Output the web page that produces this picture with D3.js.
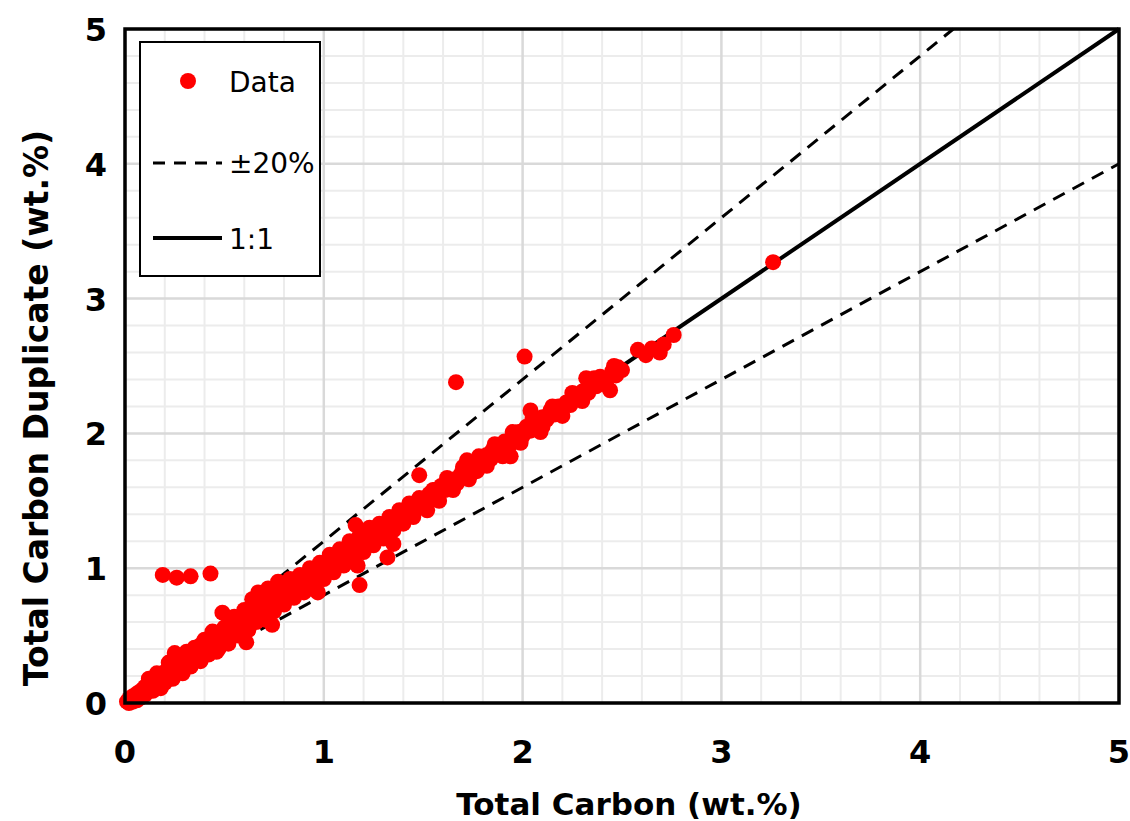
<!DOCTYPE html>
<html>
<head>
<meta charset="utf-8">
<script src="https://cdn.jsdelivr.net/npm/d3@7.9.0/dist/d3.min.js"></script>
<style>
  body { margin: 0; background: #fff; }
  svg { display: block; font-family: "Century Gothic", "DejaVu Sans", sans-serif; }
</style>
</head>
<body>
<svg id="chart" width="1130" height="821"></svg>
<script>
// total carbon (x) and duplicate measurement (y), wt.%
const totalCarbon = [
  0.01, 0.02, 0.03, 0.04, 0.05, 0.06, 0.07, 0.08, 0.09, 0.10, 0.11, 0.12, 0.13, 0.14, 0.15, 0.16, 0.17, 0.18, 0.18, 0.19,
  0.20, 0.21, 0.22, 0.23, 0.24, 0.25, 0.25, 0.26, 0.27, 0.28, 0.29, 0.30, 0.30,
  0.31, 0.32, 0.33, 0.34, 0.35, 0.36, 0.37, 0.38, 0.39, 0.40, 0.41, 0.42, 0.43, 0.44, 0.45, 0.46, 0.46, 0.47, 0.48, 0.49,
  0.50, 0.51, 0.52, 0.53, 0.54, 0.55, 0.56, 0.57, 0.58, 0.59, 0.60, 0.61, 0.62, 0.63,
  0.64, 0.65, 0.66, 0.67, 0.68, 0.69, 0.70, 0.71, 0.72, 0.73, 0.74, 0.75, 0.76, 0.77, 0.78, 0.79, 0.80, 0.81, 0.82, 0.83,
  0.84, 0.85, 0.86, 0.87, 0.88, 0.89, 0.90, 0.91, 0.92, 0.93, 0.94, 0.95, 0.96, 0.97, 0.98, 0.99, 1.00,
  1.01, 1.02, 1.03, 1.04, 1.05, 1.06, 1.07, 1.08, 1.09, 1.10, 1.11, 1.12, 1.13, 1.14, 1.15, 1.16, 1.17, 1.18, 1.19, 1.20,
  1.21, 1.22, 1.23, 1.25, 1.26, 1.28, 1.29, 1.30, 1.32, 1.33, 1.35, 1.34, 1.36, 1.38, 1.39, 1.41, 1.42, 1.44, 1.45, 1.47, 1.48, 1.48,
  1.50, 1.52, 1.53, 1.55, 1.56, 1.58, 1.59, 1.61, 1.62, 1.64, 1.665, 1.66, 1.67, 1.69, 1.70, 1.72, 1.72, 1.74, 1.76, 1.77,
  1.79, 1.80, 1.82, 1.84, 1.85, 1.87, 1.88, 1.90, 1.91, 1.93, 1.94, 1.95, 1.97, 1.98, 2.00,
  2.01, 2.02, 2.04, 2.04, 2.06, 2.08, 2.09, 2.10, 2.12, 2.14, 2.16, 2.18, 2.20, 2.22, 2.24, 2.26, 2.28, 2.30, 2.32, 2.33,
  2.35, 2.37, 2.39, 2.41, 2.44, 2.45, 2.47, 2.48, 2.50,
  2.58, 2.62, 2.65, 2.69, 2.71, 2.76, 3.26,
  0.19, 0.26, 0.33, 0.43,
  0.02, 0.04, 0.06, 0.08, 0.10, 0.12, 0.14, 0.16, 0.20, 0.22, 0.24, 0.27, 0.29, 0.31, 0.33, 0.35, 0.38, 0.40, 0.42, 0.44,
  0.47, 0.50, 0.52,
  0.55, 0.57, 0.60, 0.62, 0.64, 0.66, 0.68, 0.70, 0.72, 0.75, 0.78, 0.80, 0.83, 0.85, 0.88, 0.90, 0.93, 0.95, 0.98, 1.00,
  1.03, 1.05, 1.08, 1.10, 1.13, 1.15, 1.18, 1.20, 1.23, 1.25, 1.28, 1.30, 1.33, 1.35, 1.38, 1.40, 1.43, 1.45, 1.48,
  1.52, 1.55, 1.58, 1.62, 1.65, 1.70, 1.73, 1.78, 1.82, 1.86, 1.90, 1.95, 1.99, 2.05, 2.10, 2.15, 2.20, 2.25, 2.30, 2.36,
  2.42, 2.46
];
const duplicate = [
  0.01, 0.03, 0.02, 0.05, 0.04, 0.07, 0.05, 0.09, 0.08, 0.12, 0.09, 0.14, 0.11, 0.16, 0.13, 0.18, 0.15, 0.21, 0.11, 0.17,
  0.23, 0.19, 0.26, 0.21, 0.29, 0.22, 0.37, 0.30, 0.25, 0.33, 0.27, 0.35, 0.26,
  0.30, 0.36, 0.31, 0.38, 0.33, 0.41, 0.35, 0.43, 0.37, 0.45, 0.39, 0.47, 0.42, 0.49, 0.44, 0.51, 0.38, 0.46, 0.53, 0.67,
  0.48, 0.55, 0.50, 0.58, 0.53, 0.60, 0.55, 0.62, 0.57, 0.64, 0.58, 0.45, 0.66, 0.61,
  0.72, 0.64, 0.78, 0.82, 0.70, 0.66, 0.78, 0.73, 0.85, 0.70, 0.58, 0.76, 0.82, 0.90, 0.74, 0.80, 0.86, 0.79, 0.88, 0.80,
  0.86, 0.90, 0.83, 0.89, 0.85, 0.91, 0.87, 0.93, 0.89, 0.95, 0.91, 0.97, 0.93, 0.82, 0.96, 1.00, 0.97,
  1.03, 0.99, 1.05, 1.01, 1.08, 1.03, 1.10, 1.06, 1.12, 1.08, 1.14, 1.10, 1.16, 1.12, 1.18, 1.32, 1.02, 0.875, 1.20, 1.17,
  1.23, 1.19, 1.25, 1.22, 1.28, 1.25, 1.31, 1.27, 1.08, 1.32, 1.18, 1.36, 1.33, 1.39, 1.36, 1.42, 1.39, 1.45, 1.42, 1.48, 1.69, 1.45,
  1.51, 1.49, 1.55, 1.52, 1.58, 1.56, 1.61, 1.58, 1.64, 1.62, 2.38, 1.66, 1.63, 1.70, 1.67, 1.80, 1.73, 1.71, 1.77, 1.72,
  1.81, 1.78, 1.84, 1.81, 1.88, 1.85, 1.91, 1.88, 1.94, 1.90, 1.83, 1.97, 1.94, 2.01, 1.98,
  2.57, 2.05, 2.17, 2.02, 2.08, 2.06, 2.01, 2.12, 2.10, 2.17, 2.14, 2.20, 2.18, 2.23, 2.21, 2.28, 2.27, 2.31, 2.41, 2.30,
  2.37, 2.35, 2.42, 2.39, 2.32, 2.46, 2.43, 2.49, 2.47,
  2.62, 2.58, 2.63, 2.60, 2.66, 2.73, 3.27,
  0.95, 0.93, 0.94, 0.96,
  0.00, 0.01, 0.02, 0.04, 0.06, 0.18, 0.09, 0.22, 0.15, 0.30, 0.18, 0.34, 0.22, 0.38, 0.27, 0.41, 0.31, 0.47, 0.36, 0.53,
  0.40, 0.56, 0.44,
  0.64, 0.50, 0.69, 0.54, 0.77, 0.60, 0.80, 0.62, 0.80, 0.68, 0.86, 0.73, 0.92, 0.78, 0.95, 0.82, 1.00, 0.87, 1.04, 0.92,
  1.10, 0.97, 1.14, 1.02, 1.20, 1.07, 1.24, 1.12, 1.30, 1.17, 1.33, 1.22, 1.38, 1.28, 1.43, 1.33, 1.48, 1.38, 1.52,
  1.43, 1.58, 1.50, 1.67, 1.58, 1.75, 1.66, 1.83, 1.76, 1.92, 1.83, 2.01, 1.93, 2.11, 2.05, 2.20, 2.13, 2.30, 2.24, 2.41,
  2.36, 2.50
];
const tickValues = [0, 1, 2, 3, 4, 5];
const bandFactors = [1.2, 0.8];
const legendLabels = ["Data", "\u00b120%", "1:1"];

const svg = d3.select("#chart");
const width = +svg.attr("width"), height = +svg.attr("height");
const margin = { top: 29, right: 11, bottom: 118, left: 125 };

const x = d3.scaleLinear().domain([0, 5]).range([margin.left, width - margin.right]);
const y = d3.scaleLinear().domain([0, 5]).range([height - margin.bottom, margin.top]);

const minor = d3.range(0, 5.001, 0.2).map(v => +v.toFixed(1)).filter(v => !Number.isInteger(v));

const grid = svg.append("g");
grid.selectAll("line.mx").data(minor).join("line")
  .attr("x1", d => x(d)).attr("x2", d => x(d))
  .attr("y1", y(0)).attr("y2", y(5))
  .attr("stroke", "#ececec").attr("stroke-width", 2);
grid.selectAll("line.my").data(minor).join("line")
  .attr("y1", d => y(d)).attr("y2", d => y(d))
  .attr("x1", x(0)).attr("x2", x(5))
  .attr("stroke", "#ececec").attr("stroke-width", 2);
grid.selectAll("line.gx").data(tickValues).join("line")
  .attr("x1", d => x(d)).attr("x2", d => x(d))
  .attr("y1", y(0)).attr("y2", y(5))
  .attr("stroke", "#d9d9d9").attr("stroke-width", 2.5);
grid.selectAll("line.gy").data(tickValues).join("line")
  .attr("y1", d => y(d)).attr("y2", d => y(d))
  .attr("x1", x(0)).attr("x2", x(5))
  .attr("stroke", "#d9d9d9").attr("stroke-width", 2.5);

// ±20% lines
bandFactors.forEach(f => {
  const xe = Math.min(5, 5 / f);
  svg.append("line")
    .attr("x1", x(0)).attr("y1", y(0))
    .attr("x2", x(xe)).attr("y2", y(xe * f))
    .attr("stroke", "#000").attr("stroke-width", 3)
    .attr("stroke-dasharray", "13,9");
});

// 1:1 line
svg.append("line")
  .attr("x1", x(0)).attr("y1", y(0))
  .attr("x2", x(5)).attr("y2", y(5))
  .attr("stroke", "#000").attr("stroke-width", 4);

svg.append("g").selectAll("circle")
  .data(totalCarbon.map((d, i) => [d, duplicate[i]]))
  .join("circle")
  .attr("cx", d => x(d[0]))
  .attr("cy", d => y(d[1]))
  .attr("r", 8)
  .attr("fill", "#ff0000");

// plot frame
svg.append("rect")
  .attr("x", x(0)).attr("y", y(5))
  .attr("width", x(5) - x(0)).attr("height", y(0) - y(5))
  .attr("fill", "none").attr("stroke", "#000").attr("stroke-width", 3.5);

// tick labels
svg.append("g").selectAll("text").data(tickValues).join("text")
  .attr("x", d => x(d)).attr("y", 763)
  .attr("text-anchor", "middle")
  .style("font-size", "32px").style("font-weight", "bold")
  .text(d => d);
svg.append("g").selectAll("text").data(tickValues).join("text")
  .attr("x", 107).attr("y", d => y(d) + 12)
  .attr("text-anchor", "end")
  .style("font-size", "32px").style("font-weight", "bold")
  .text(d => d);

svg.append("text")
  .attr("x", 629).attr("y", 815)
  .attr("text-anchor", "middle")
  .style("font-size", "31px").style("font-weight", "bold")
  .text("Total Carbon (wt.%)");

svg.append("text")
  .attr("transform", "rotate(-90)")
  .attr("x", -408).attr("y", 48)
  .attr("text-anchor", "middle")
  .style("font-size", "33px").style("font-weight", "bold")
  .text("Total Carbon Duplicate (wt.%)");

// legend
const legend = svg.append("g");
legend.append("rect")
  .attr("x", 140).attr("y", 42).attr("width", 180).attr("height", 234)
  .attr("fill", "#fff").attr("stroke", "#000").attr("stroke-width", 2);
legend.append("circle").attr("cx", 188).attr("cy", 81).attr("r", 8).attr("fill", "#ff0000");
legend.append("line").attr("x1", 153).attr("x2", 222).attr("y1", 163).attr("y2", 163)
  .attr("stroke", "#000").attr("stroke-width", 3).attr("stroke-dasharray", "12,9");
legend.append("line").attr("x1", 153).attr("x2", 222).attr("y1", 238).attr("y2", 238)
  .attr("stroke", "#000").attr("stroke-width", 4);
legend.selectAll("text").data(legendLabels).join("text")
  .attr("x", 229)
  .attr("y", (d, i) => [92, 173, 249][i])
  .style("font-size", "28px")
  .style("font-weight", "500")
  .text(d => d);
</script>
</body>
</html>
